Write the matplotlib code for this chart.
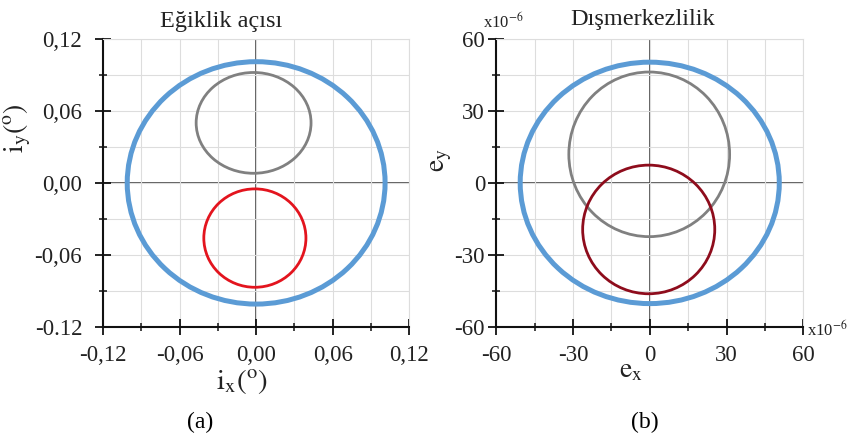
import matplotlib.pyplot as plt
from matplotlib.patches import Ellipse
from matplotlib.ticker import MultipleLocator

plt.rcParams["font.family"] = ["Liberation Serif", "DejaVu Serif"]
plt.rcParams["mathtext.fontset"] = "stix"

# (a) inclination vector circles: centre x, centre y, radius x, radius y
incl_cx = [0.0, -0.002, -0.001]
incl_cy = [0.0, 0.050, -0.046]
incl_rx = [0.101, 0.045, 0.040]
incl_ry = [0.101, 0.042, 0.041]
incl_colors = ["#5b9bd5", "#808080", "#e3141e"]
line_widths = [3.6, 2.0, 2.0]

# (b) eccentricity vector circles (x1e-6)
ecc_cx = [0.0, -0.2, -0.4]
ecc_cy = [0.0, 11.9, -19.4]
ecc_rx = [50.6, 31.4, 25.8]
ecc_ry = [50.3, 34.3, 26.8]
ecc_colors = ["#5b9bd5", "#808080", "#8e0c1c"]

incl_ticks = [-0.12, -0.06, 0.0, 0.06, 0.12]
incl_xlabels = ["-0,12", "-0,06", "0,00", "0,06", "0,12"]
incl_ylabels = ["-0.12", "-0,06", "0,00", "0,06", "0,12"]
ecc_ticks = [-60, -30, 0, 30, 60]
ecc_labels = ["-60", "-30", "0", "30", "60"]


def style_axes(ax, lim, ticks, xlabels, ylabels, minor, ypad):
    ax.set_xlim(-lim, lim)
    ax.set_ylim(-lim, lim)
    ax.set_xticks(ticks)
    ax.set_yticks(ticks)
    ax.set_xticklabels(xlabels)
    ax.set_yticklabels(ylabels)
    ax.xaxis.set_minor_locator(MultipleLocator(minor))
    ax.yaxis.set_minor_locator(MultipleLocator(minor))
    ax.grid(which="both", color="#dddddd", lw=0.8, zorder=0)
    ax.tick_params(which="major", direction="inout", length=12, width=1.3,
                   labelsize=16.5, color="#111111", labelcolor="#222222")
    ax.tick_params(which="minor", direction="inout", length=6, width=1.1,
                   color="#111111")
    ax.tick_params(axis="x", pad=7)
    ax.tick_params(axis="y", pad=ypad)
    for side in ("top", "right"):
        ax.spines[side].set_color("#dddddd")
        ax.spines[side].set_linewidth(0.8)
    for side in ("left", "bottom"):
        ax.spines[side].set_color("#111111")
        ax.spines[side].set_linewidth(1.5)
    ax.axhline(0, color="#333333", lw=1.1, zorder=1)
    ax.axvline(0, color="#333333", lw=1.1, zorder=1)


fig = plt.figure(figsize=(8.51, 4.37), dpi=100)
ax1 = fig.add_axes([0.121, 0.252, 0.360, 0.659])
ax2 = fig.add_axes([0.583, 0.252, 0.361, 0.659])

style_axes(ax1, 0.12, incl_ticks, incl_xlabels, incl_ylabels, 0.03, 9)
style_axes(ax2, 60, ecc_ticks, ecc_labels, ecc_labels, 15, 2)

for cx, cy, rx, ry, c, w in zip(incl_cx, incl_cy, incl_rx, incl_ry, incl_colors, line_widths):
    ax1.add_patch(Ellipse((cx, cy), 2 * rx, 2 * ry, fill=False, ec=c, lw=w, zorder=3))
for cx, cy, rx, ry, c, w in zip(ecc_cx, ecc_cy, ecc_rx, ecc_ry, ecc_colors, line_widths):
    ax2.add_patch(Ellipse((cx, cy), 2 * rx, 2 * ry, fill=False, ec=c, lw=w, zorder=3))

fig.text(221 / 851, 1 - 22 / 437, "Eğiklik açısı", fontsize=17.5, ha="center", va="center",
         color="#222222")
fig.text(643 / 851, 1 - 19 / 437, "Dışmerkezlilik", fontsize=17.5, ha="center", va="center",
         color="#222222")

fig.text(17 / 851, 1 - 128 / 437, r"$\mathrm{i_y(^o)}$", fontsize=20,
         rotation=90, ha="center", va="center", color="#222222")
fig.text(242 / 851, 1 - 382 / 437, r"$\mathrm{i_x(^o)}$", fontsize=21,
         ha="center", va="center", color="#222222")
fig.text(441 / 851, 1 - 160 / 437, r"$\mathrm{e_y}$", fontsize=20,
         rotation=90, ha="center", va="center", color="#222222")
fig.text(631 / 851, 1 - 371 / 437, r"$\mathrm{e_x}$", fontsize=20,
         ha="center", va="center", color="#222222")

fig.text(503 / 851, 1 - 22 / 437, r"x10$^{-6}$", fontsize=12, ha="center", va="center",
         color="#222222")
fig.text(827 / 851, 1 - 330 / 437, r"x10$^{-6}$", fontsize=12, ha="center", va="center",
         color="#222222")

fig.text(200 / 851, 1 - 422 / 437, "(a)", fontsize=17, ha="center", va="center")
fig.text(645 / 851, 1 - 422 / 437, "(b)", fontsize=17, ha="center", va="center")

fig.savefig("out.png", dpi=100)
